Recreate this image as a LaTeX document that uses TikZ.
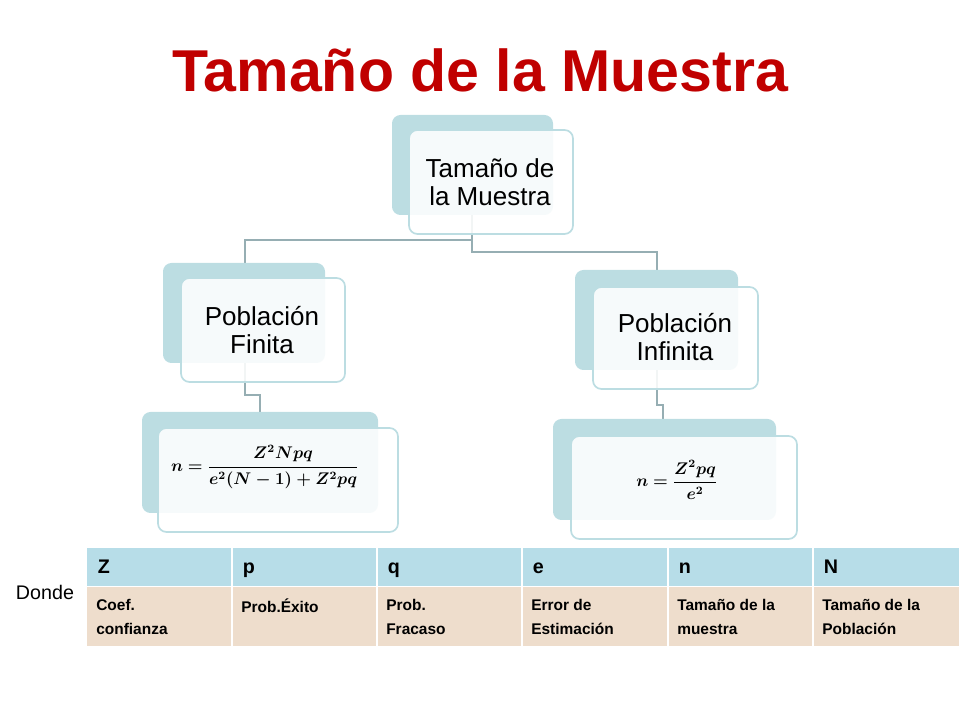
\documentclass[tikz,border=0pt]{standalone}
\usepackage{amsmath}
\usepackage{bm}
\usepackage{fontspec}
\setmainfont{Liberation Sans}
\definecolor{titlered}{HTML}{C00000}
\definecolor{backblue}{HTML}{BCDDE2}
\definecolor{linegray}{HTML}{96AEB3}
\definecolor{headblue}{HTML}{B7DDE8}
\definecolor{bodybeige}{HTML}{EEDDCC}
\begin{document}
\begin{tikzpicture}[x=0.025cm,y=-0.025cm]
    % Define the styles for the boxes and links
    \tikzstyle{backbox}=[fill=backblue, rounded corners=6pt]
    \tikzstyle{frontbox}=[draw=backblue, line width=1.2pt, fill=white, fill opacity=0.88, rounded corners=6pt]
    \tikzstyle{link}=[draw=linegray, line width=1.6pt]
    \tikzstyle{boxtext}=[align=center, font=\fontsize{18.5}{20}\selectfont]
    \tikzstyle{headcell}=[anchor=base west, font=\bfseries\fontsize{14}{16}\selectfont]
    \tikzstyle{bodycell}=[anchor=north west, align=left, inner sep=0pt, font=\bfseries\fontsize{11}{17}\selectfont]
    \useasboundingbox (0,0) rectangle (960,720);

    % Title
    \node[text=titlered, font=\bfseries\fontsize{42}{46}\selectfont] (title) at (480,70) {Tamaño de la Muestra};

    % Links between the boxes
    \draw[link] (472,200) -- (472,240) -- (245,240) -- (245,278);
    \draw[link] (472,240) -- (472,252) -- (657,252) -- (657,287);
    \draw[link] (245,363) -- (245,395) -- (260,395) -- (260,428);
    \draw[link] (657,370) -- (657,405) -- (663,405) -- (663,436);

    % Boxes
    \fill[backbox] (392,115) rectangle (553,215);
    \draw[frontbox] (409,130) rectangle (573,234);
    \node[boxtext] (muestra) at (490,182) {Tamaño de\\la Muestra};

    \fill[backbox] (163,263) rectangle (325,363);
    \draw[frontbox] (181,278) rectangle (345,382);
    \node[boxtext] (finita) at (262,330) {Población\\Finita};

    \fill[backbox] (575,270) rectangle (738,370);
    \draw[frontbox] (593,287) rectangle (758,389);
    \node[boxtext] (infinita) at (675,337) {Población\\Infinita};

    \fill[backbox] (142,412) rectangle (378,513);
    \draw[frontbox] (158,428) rectangle (398,532);
    \node[font=\large] (formula_finita) at (265,467) {$\boldsymbol{n=\dfrac{Z^2Npq}{e^2(N-1)+Z^2pq}}$};

    \fill[backbox] (553,419) rectangle (776,520);
    \draw[frontbox] (571,436) rectangle (797,539);
    \node[font=\large] (formula_infinita) at (677,480) {$\boldsymbol{n=\dfrac{Z^2pq}{e^2}}$};

    % Table
    \node[font=\fontsize{14}{16}\selectfont] (donde) at (45,592) {Donde};
    \fill[headblue] (87,548) rectangle (959,586);
    \fill[bodybeige] (87,587) rectangle (959,646);
    \foreach \x in {232,377,522,668,813} {
        \draw[white, line width=1.2pt] (\x,548) -- (\x,646);
    }
    \draw[white, line width=1.2pt] (87,586.5) -- (959,586.5);
    \foreach \x/\h/\b in {87/Z/{Coef.\\confianza}, 232/p/{Prob.Éxito}, 377/q/{Prob.\\Fracaso},
        522/e/{Error de\\Estimación}, 668/n/{Tamaño de la\\muestra}, 813/N/{Tamaño de la\\Población}} {
        \node[headcell] at (\x+6,574) {\h};
        \node[bodycell] at (\x+9,599) {\b};
    }
\end{tikzpicture}
\end{document}
